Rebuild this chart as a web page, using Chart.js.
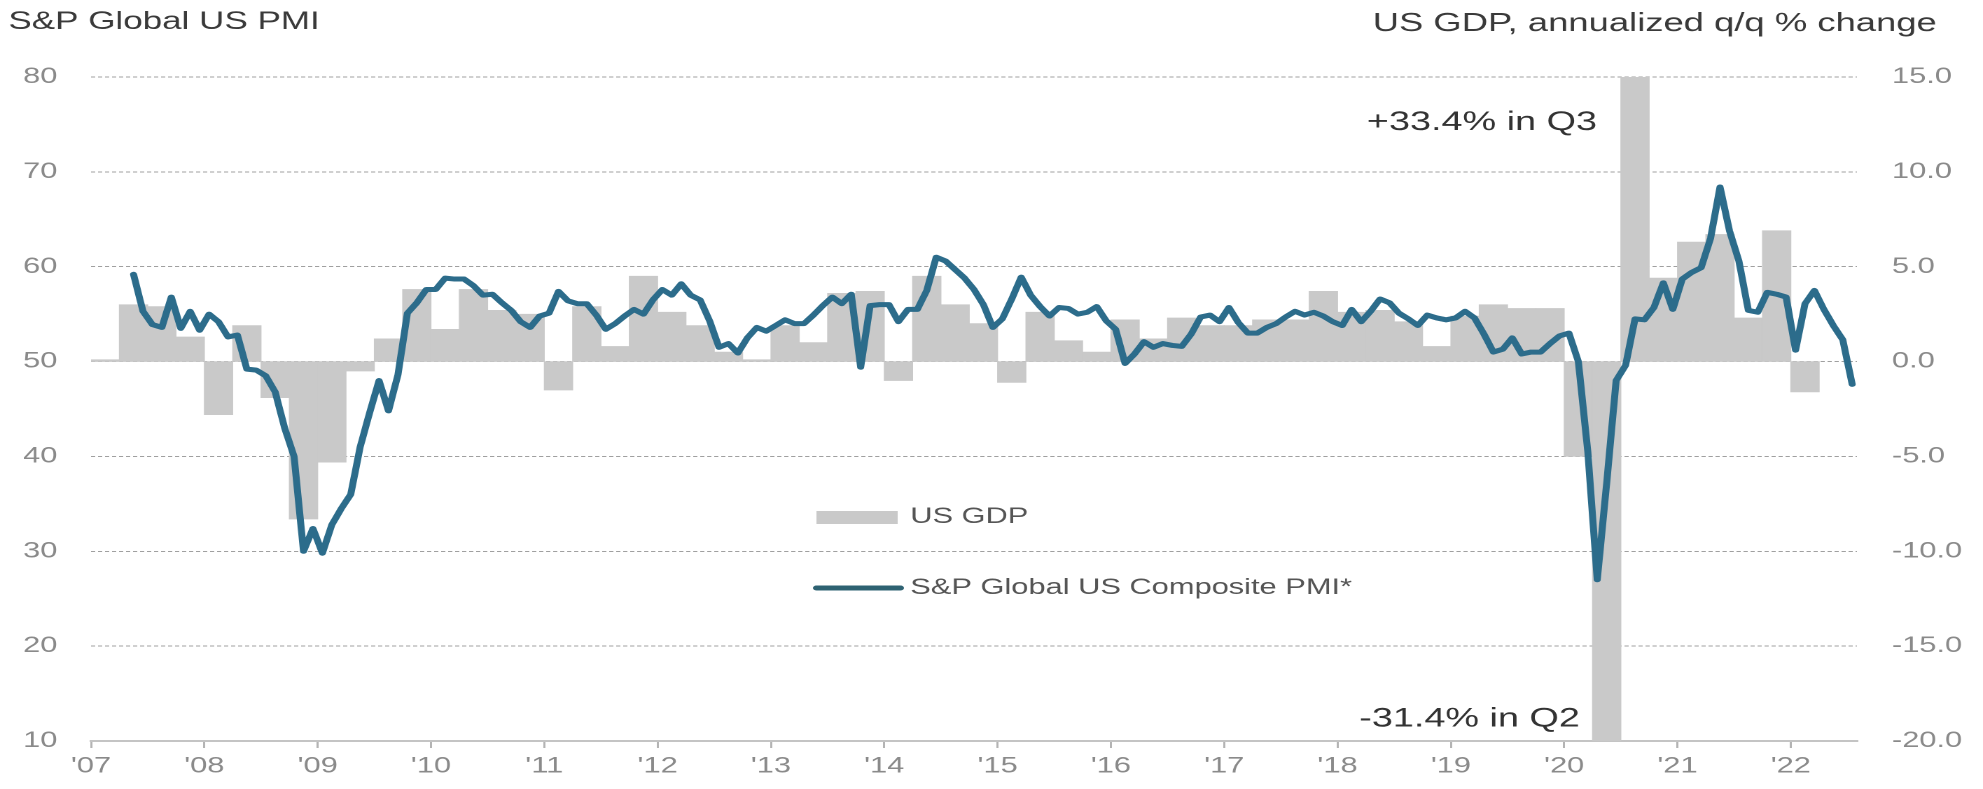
<!DOCTYPE html>
<html>
<head>
<meta charset="utf-8">
<title>S&amp;P Global US PMI vs US GDP</title>
<script src="https://cdn.jsdelivr.net/npm/chart.js@4.4.1/dist/chart.umd.min.js"></script>
<style>
    html, body { margin: 0; padding: 0; background: #ffffff; overflow: hidden; }
    /* the source picture is stretched sideways, so the chart is drawn narrow and widened */
    #wrap { width: 1416px; height: 789px; transform: scaleX(1.4004); transform-origin: 0 0; }
</style>
</head>
<body>
<div id="wrap"><canvas id="pmiChart"></canvas></div>
<script>
// Tick labels on the time axis
const yearLabels = ["'07", "'08", "'09", "'10", "'11", "'12", "'13", "'14", "'15", "'16", "'17", "'18", "'19", "'20", "'21", "'22"];

// US GDP, annualized q/q % change, Q1 2007 .. Q1 2022
const gdpStartYear = 2007;
const gdpValues = [
    0.1, 3.0, 2.9, 1.3,
    -2.8, 1.9, -1.9, -8.3,
    -5.3, -0.5, 1.2, 3.8,
    1.7, 3.8, 2.7, 2.5,
    -1.5, 2.9, 0.8, 4.5,
    2.6, 1.9, 0.5, 0.1,
    1.9, 1.0, 3.6, 3.7,
    -1.0, 4.5, 3.0, 2.0,
    -1.1, 2.6, 1.1, 0.5,
    2.2, 1.2, 2.3, 1.9,
    1.9, 2.2, 2.2, 3.7,
    2.6, 2.7, 2.1, 0.8,
    2.4, 3.0, 2.8, 2.8,
    -5.0, -31.4, 33.4, 4.4,
    6.3, 6.7, 2.3, 6.9,
    -1.6
];

// S&P Global US Composite PMI, monthly, May 2007 .. Jul 2022
const pmiStartYear = 2007;
const pmiStartMonth = 4; // May
const pmiValues = [
    59.2, 55.3, 53.9, 53.6, 56.8, 53.5, 55.3, 53.3,
    55.0, 54.2, 52.6, 52.8, 49.2, 49.1, 48.5, 46.8, 43.0, 40.0, 30.0, 32.4,
    29.8, 32.8, 34.5, 36.0, 41.0, 44.6, 48.0, 44.8, 48.6, 55.1, 56.2, 57.6,
    57.6, 58.8, 58.7, 58.7, 58.0, 57.0, 57.1, 56.2, 55.4, 54.2, 53.6, 54.8,
    55.1, 57.4, 56.4, 56.1, 56.1, 54.9, 53.4, 54.0, 54.8, 55.5, 55.0, 56.5,
    57.6, 57.0, 58.2, 57.0, 56.5, 54.3, 51.5, 51.9, 50.9, 52.5, 53.6, 53.2,
    53.8, 54.4, 54.0, 54.0, 54.9, 55.9, 56.8, 56.1, 57.1, 49.4, 55.9, 56.0,
    56.0, 54.2, 55.5, 55.5, 57.5, 61.0, 60.6, 59.7, 58.8, 57.6, 56.0, 53.6,
    54.5, 56.6, 58.9, 57.0, 55.8, 54.8, 55.7, 55.6, 55.0, 55.2, 55.8, 54.3,
    53.4, 49.8, 50.8, 52.1, 51.5, 51.9, 51.7, 51.6, 52.9, 54.7, 54.9, 54.2,
    55.7, 54.1, 53.0, 53.0, 53.6, 54.0, 54.7, 55.3, 54.9, 55.2, 54.8, 54.2,
    53.8, 55.5, 54.2, 55.3, 56.6, 56.2, 55.1, 54.5, 53.8, 54.9, 54.6, 54.4,
    54.6, 55.3, 54.6, 52.9, 51.0, 51.3, 52.5, 50.8, 51.0, 51.0, 51.9, 52.7,
    53.0, 50.0, 40.5, 27.0, 37.2, 48.0, 49.6, 54.5, 54.4, 55.7, 58.3, 55.5,
    58.7, 59.4, 59.9, 63.0, 68.4, 63.8, 60.6, 55.4, 55.2, 57.3, 57.1, 56.8,
    51.2, 56.1, 57.5, 55.5, 53.8, 52.3, 47.6
];

const leftTitle = "S&P Global US PMI";
const rightTitle = "US GDP, annualized q/q % change";
const fontFamily = "'Liberation Sans', Arial, sans-serif";

// bars fill their whole quarter, line points sit mid-month
const gdpPoints = gdpValues.map((v, i) => ({ x: gdpStartYear + i / 4 + 0.125, y: v }));
const pmiPoints = pmiValues.map((v, i) => ({ x: pmiStartYear + (pmiStartMonth + i + 0.5) / 12, y: v }));

// Titles, notes on the clipped bars and the legend inside the plot
const overlayText = {
    id: "overlayText",
    afterDraw(chart) {
        const c = chart.ctx;
        const xs = chart.scales.x;
        const ys = chart.scales.y2;
        c.save();
        c.textBaseline = "middle";

        c.fillStyle = "#3a3a3a";
        c.font = "25px " + fontFamily;
        c.textAlign = "left";
        c.fillText(leftTitle, 6, 22);
        c.font = "26px " + fontFamily;
        c.textAlign = "right";
        c.fillText(rightTitle, 1383, 24);

        // the 2020 bars run off the scale, their values are written next to them
        c.font = "27px " + fontFamily;
        c.fillStyle = "#333333";
        c.fillText("+33.4% in Q3", xs.getPixelForValue(2020.5) - 17, ys.getPixelForValue(12.6));
        c.fillText("-31.4% in Q2", xs.getPixelForValue(2020.25) - 9, ys.getPixelForValue(-18.85));

        // legend
        const bars = chart.data.datasets[1];
        const line = chart.data.datasets[0];
        c.fillStyle = bars.backgroundColor;
        c.fillRect(583, 511, 58, 13);
        c.strokeStyle = "#2e6272";
        c.lineWidth = 5;
        c.lineCap = "round";
        c.beginPath();
        c.moveTo(583, 588);
        c.lineTo(643, 588);
        c.stroke();
        c.font = "22px " + fontFamily;
        c.fillStyle = "#555555";
        c.textAlign = "left";
        c.fillText(bars.label, 650, 517);
        c.fillText(line.label, 650, 588);
        c.restore();
    }
};

const ctx = document.getElementById("pmiChart").getContext("2d");
new Chart(ctx, {
    data: {
        datasets: [
            {
                type: "line",
                label: "S&P Global US Composite PMI*",
                data: pmiPoints,
                yAxisID: "y",
                borderColor: "#2c6c8b",
                borderWidth: 5,
                borderJoinStyle: "round",
                borderCapStyle: "round",
                pointRadius: 0,
                tension: 0,
                order: 0
            },
            {
                type: "bar",
                label: "US GDP",
                data: gdpPoints,
                yAxisID: "y2",
                backgroundColor: "#c9c9c9",
                barPercentage: 1,
                categoryPercentage: 1,
                order: 1
            }
        ]
    },
    options: {
        responsive: true,
        maintainAspectRatio: false,
        devicePixelRatio: 2,
        animation: false,
        layout: { padding: { top: 77, right: 0, bottom: 0, left: 0 } },
        plugins: {
            legend: { display: false },
            tooltip: { enabled: false }
        },
        scales: {
            x: {
                type: "linear",
                min: 2007,
                max: 2022 + 7 / 12,
                offset: false,
                grid: { display: true, offset: false, drawOnChartArea: false, drawTicks: true, tickLength: 7, color: "#b4b4b4", lineWidth: 1.5 },
                border: { display: true, color: "#c4c4c4", width: 2 },
                ticks: {
                    stepSize: 1,
                    includeBounds: false,
                    autoSkip: false,
                    maxRotation: 0,
                    padding: 5,
                    color: "#8a8a8a",
                    font: { family: fontFamily, size: 22 },
                    callback: (v) => yearLabels[Math.round(v) - 2007]
                },
                afterFit: (s) => { s.height = 48; }
            },
            y: {
                position: "left",
                min: 10,
                max: 80,
                grid: { color: "#a0a0a0", lineWidth: 1, drawTicks: false },
                border: { display: false, dash: [3, 2] },
                ticks: {
                    stepSize: 10,
                    padding: 24,
                    color: "#8a8a8a",
                    font: { family: fontFamily, size: 22 }
                },
                afterFit: (s) => { s.width = 65; }
            },
            y2: {
                position: "right",
                min: -20,
                max: 15,
                grid: { display: false, drawTicks: false },
                border: { display: false },
                ticks: {
                    stepSize: 5,
                    padding: 25,
                    color: "#8a8a8a",
                    font: { family: fontFamily, size: 22 },
                    callback: (v) => v.toFixed(1)
                },
                afterFit: (s) => { s.width = 90; }
            }
        }
    },
    plugins: [overlayText]
});
</script>
</body>
</html>
